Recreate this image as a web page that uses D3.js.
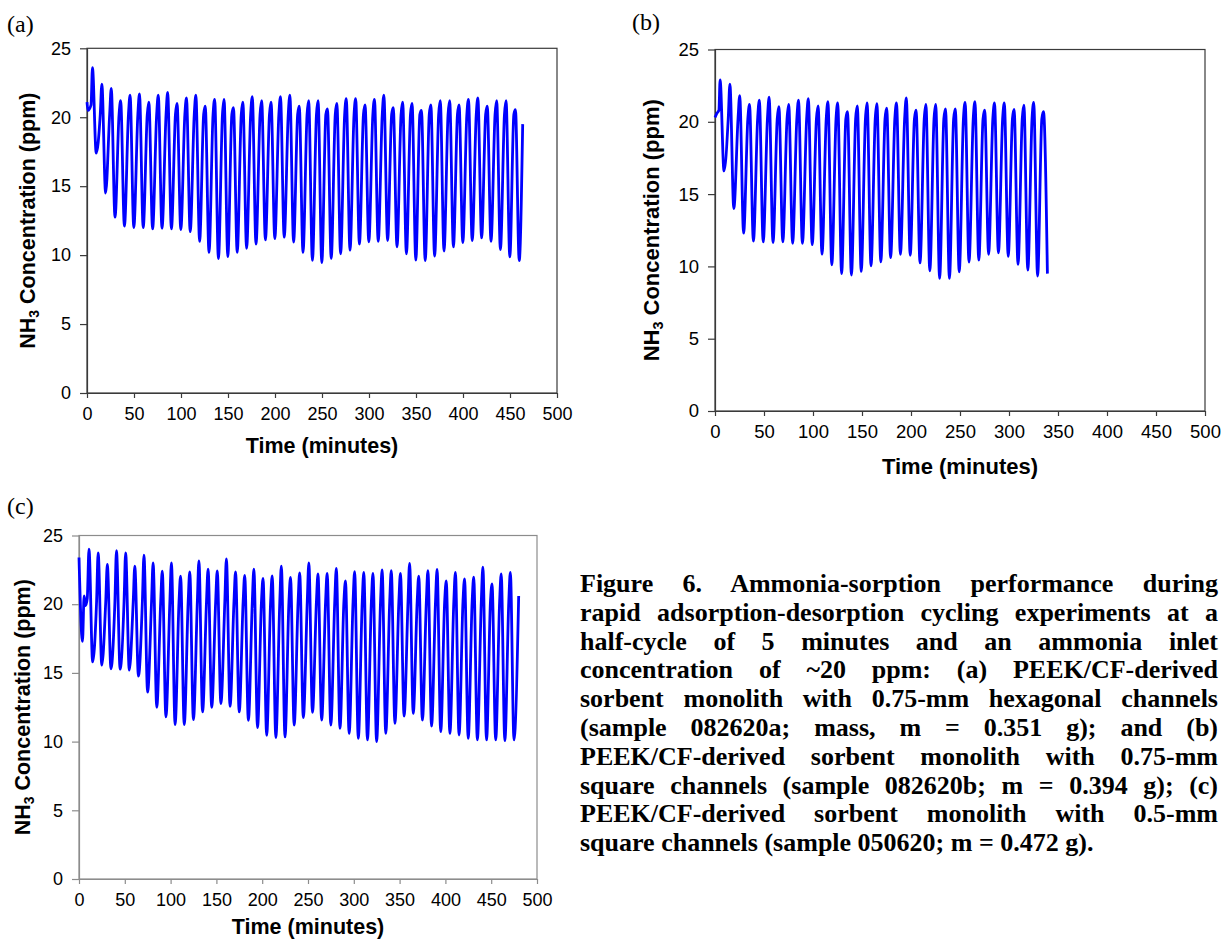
<!DOCTYPE html>
<html><head><meta charset="utf-8">
<script src="https://cdn.jsdelivr.net/npm/d3@7"></script>
<style>html,body{margin:0;padding:0;background:#fff;} svg{display:block;}</style>
</head><body>
<svg id="chart" width="1225" height="941"></svg>
<script>
// ---------------- data ----------------
const xTickValues = [0, 50, 100, 150, 200, 250, 300, 350, 400, 450, 500];
const yTickValues = [0, 5, 10, 15, 20, 25];
const cycleMinutes = 10;          // full adsorption-desorption cycle (2 x 5-min half-cycles)

// panel (a)
const aLead = [[0, 21.1], [1.0, 20.5], [4.3, 20.9]];
const aFirstPeak = 5.8;
const aPeaks = [23.6, 22.4, 22.1, 21.2, 21.6, 21.7, 21.1, 21.6, 21.8, 21.0,
  21.4, 21.6, 20.8, 21.3, 21.3, 20.7, 21.1, 21.5, 21.2, 21.1,
  21.5, 21.6, 20.8, 21.2, 21.2, 20.6, 21.0, 21.35, 21.35, 20.9,
  21.3, 21.6, 20.7, 21.1, 21.0, 20.5, 20.9, 21.2, 21.2, 20.9,
  21.3, 21.4, 20.8, 21.2, 21.2, 20.55];
const aTroughs = [17.4, 14.5, 12.75, 12.1, 12.0, 12.0, 11.9, 11.95, 11.9, 11.85,
  11.7, 11.0, 10.2, 9.75, 9.9, 10.2, 10.5, 10.8, 11.1, 11.2,
  11.3, 10.95, 10.2, 9.62, 9.45, 9.76, 10.1, 10.35, 10.8, 10.96,
  11.0, 11.06, 10.6, 10.1, 9.64, 9.6, 9.93, 10.3, 10.6, 10.9,
  11.06, 11.25, 11.0, 10.4, 9.87, 9.6];
const aShoulder = 20.2;
const aTail = [[463.5, 19.5]];

// panel (b)
const bLead = [[0, 20.3], [2.0, 20.6], [4.0, 20.8]];
const bFirstPeak = 5.2;
const bPeaks = [22.9, 22.6, 21.8, 21.2, 21.5, 21.7, 21.05, 21.2, 21.5, 21.6,
  21.1, 21.4, 21.3, 20.7, 21.1, 21.3, 21.25, 20.95, 21.3, 21.65,
  20.8, 21.2, 21.2, 20.9, 20.9, 21.35, 21.4, 20.8, 21.3, 21.3,
  20.85, 21.15, 21.35, 20.7];
const bTroughs = [16.6, 14.0, 12.3, 11.75, 11.7, 11.65, 11.7, 11.6, 11.6, 11.5,
  10.85, 10.1, 9.5, 9.4, 9.65, 10.04, 10.31, 10.61, 10.84, 10.77,
  10.24, 9.69, 9.17, 9.17, 9.62, 10.3, 10.43, 10.84, 10.93, 10.7,
  10.15, 9.74, 9.33, 9.5];
const bShoulder = 20.2;
const bTail = [];

// panel (c)
const cLead = [[0, 23.4], [3.8, 17.3], [5.6, 20.6], [7.2, 19.9], [9.0, 20.4]];
const cFirstPeak = 10.9;
const cPeaks = [24.0, 23.74, 22.9, 23.9, 23.74, 22.77, 23.57, 23.0, 22.4, 23.0,
  22.04, 22.35, 23.16, 22.55, 22.43, 23.3, 22.35, 22.1, 22.55, 21.87,
  22.06, 22.77, 21.95, 22.27, 23.0, 22.2, 22.25, 22.61, 21.69, 22.37,
  22.32, 22.25, 22.49, 22.44, 22.25, 22.97, 22.05, 22.44, 22.53, 21.69,
  22.32, 21.84, 21.96, 22.69, 21.47, 22.2, 22.32];
const cTroughs = [15.8, 15.56, 15.3, 15.27, 15.2, 14.76, 13.6, 12.5, 11.8, 11.24,
  11.24, 11.6, 12.16, 12.5, 12.77, 12.57, 12.16, 11.55, 11.02, 10.46,
  10.3, 10.34, 11.2, 11.75, 12.13, 11.57, 11.21, 10.97, 10.6, 10.24,
  10.12, 10.0, 10.6, 11.33, 11.86, 12.05, 11.57, 11.13, 10.72, 10.6,
  10.48, 10.24, 10.12, 10.12, 10.12, 10.07, 10.12];
const cShoulder = 20.2;
const cTail = [[480, 20.6]];

const xTitle = "Time (minutes)";
const yTitleMain = "NH", yTitleSub = "3", yTitleRest = " Concentration (ppm)";
const captionLines = [
  "Figure 6. Ammonia-sorption performance during",
  "rapid adsorption-desorption cycling experiments at a",
  "half-cycle of 5 minutes and an ammonia inlet",
  "concentration of ~20 ppm: (a) PEEK/CF-derived",
  "sorbent monolith with 0.75-mm hexagonal channels",
  "(sample 082620a; mass, m = 0.351 g); and (b)",
  "PEEK/CF-derived sorbent monolith with 0.75-mm",
  "square channels (sample 082620b; m = 0.394 g); (c)",
  "PEEK/CF-derived sorbent monolith with 0.5-mm",
  "square channels (sample 050620; m = 0.472 g)."
];

// ---------------- build series ----------------
function buildSeries(lead, firstPeak, peaks, troughs, shoulder, tail) {
  const pts = lead.map(d => ({t: d[0], v: d[1]}));
  peaks.forEach((p, i) => {
    const tp = firstPeak + i * cycleMinutes;
    if (i > 0) pts.push({t: tp - 1.7, v: shoulder});
    pts.push({t: tp, v: p});
    if (i < troughs.length) pts.push({t: tp + 4, v: troughs[i]});
  });
  tail.forEach(d => pts.push({t: d[0], v: d[1]}));
  return pts;
}

const panels = [
  {id: "a", label: "(a)", lx: 7, ly: 32, x0: 87, x1: 557, yT: 48.3, yB: 393,
   axis: "#3a3a3a", tick: 18, title: 21.5, yTitleX: 35, xTitleY: 453, pad: 9.5,
   data: buildSeries(aLead, aFirstPeak, aPeaks, aTroughs, aShoulder, aTail)},
  {id: "b", label: "(b)", lx: 632, ly: 30, x0: 715, x1: 1205, yT: 49.5, yB: 411,
   axis: "#3a3a3a", tick: 18.5, title: 22, yTitleX: 659, xTitleY: 474, pad: 9,
   data: buildSeries(bLead, bFirstPeak, bPeaks, bTroughs, bShoulder, bTail)},
  {id: "c", label: "(c)", lx: 7, ly: 514, x0: 79, x1: 537, yT: 535.5, yB: 879,
   axis: "#8c8c8c", tick: 18, title: 21.5, yTitleX: 30, xTitleY: 934, pad: 9,
   data: buildSeries(cLead, cFirstPeak, cPeaks, cTroughs, cShoulder, cTail)}
];

const svg = d3.select("#chart");
const sans = "'Liberation Sans', Arial, sans-serif";
const serif = "'Liberation Serif', 'Times New Roman', serif";

panels.forEach(P => {
  const x = d3.scaleLinear().domain([0, 500]).range([P.x0, P.x1]);
  const y = d3.scaleLinear().domain([0, 25]).range([P.yB, P.yT]);
  const g = svg.append("g");

  // plot-area frame (top/right)
  g.append("rect").attr("x", P.x0).attr("y", P.yT)
    .attr("width", P.x1 - P.x0).attr("height", P.yB - P.yT)
    .attr("fill", "none").attr("stroke", P.axis).attr("stroke-width", 1.2);

  // axes
  const ax = g.append("g").attr("transform", `translate(0,${P.yB})`)
    .call(d3.axisBottom(x).tickValues(xTickValues).tickSize(5).tickSizeOuter(0).tickPadding(P.pad));
  const ay = g.append("g").attr("transform", `translate(${P.x0},0)`)
    .call(d3.axisLeft(y).tickValues(yTickValues).tickSize(7).tickSizeOuter(0).tickPadding(9));
  [ax, ay].forEach(a => {
    a.select(".domain").attr("stroke", P.axis).attr("stroke-width", 1.2);
    a.selectAll(".tick line").attr("stroke", P.axis).attr("stroke-width", 1.2);
    a.selectAll(".tick text").attr("fill", "#000").style("font-family", sans).style("font-size", P.tick + "px");
  });

  // data line
  const line = d3.line().x(d => x(d.t)).y(d => y(d.v)).curve(d3.curveMonotoneX);
  g.append("path").datum(P.data).attr("d", line)
    .attr("fill", "none").attr("stroke", "#0000ff").attr("stroke-width", 2.8)
    .attr("stroke-linejoin", "round");

  // axis titles
  g.append("text").attr("x", (P.x0 + P.x1) / 2).attr("y", P.xTitleY)
    .attr("text-anchor", "middle").style("font-family", sans).style("font-weight", "bold")
    .style("font-size", P.title + "px").text(xTitle);
  const yt = g.append("text")
    .attr("transform", `translate(${P.yTitleX},${(P.yT + P.yB) / 2}) rotate(-90)`)
    .attr("text-anchor", "middle").style("font-family", sans).style("font-weight", "bold")
    .style("font-size", P.title + "px");
  yt.append("tspan").text(yTitleMain);
  yt.append("tspan").attr("dy", "0.3em").style("font-size", (P.title * 0.65) + "px").text(yTitleSub);
  yt.append("tspan").attr("dy", "-0.195em").text(yTitleRest);

  // panel label
  svg.append("text").attr("x", P.lx).attr("y", P.ly)
    .style("font-family", serif).style("font-size", "24px").text(P.label);
});

// caption (justified lines)
const capX = 580, capW = 638, capY0 = 592, capLH = 28.8;
const cap = svg.append("g").style("font-family", serif).style("font-weight", "bold").style("font-size", "26px");
captionLines.forEach((s, i) => {
  const t = cap.append("text").attr("x", capX).attr("y", capY0 + i * capLH).text(s);
  if (i < captionLines.length - 1) {
    const nat = t.node().getComputedTextLength();
    const spaces = (s.match(/ /g) || []).length;
    if (spaces > 0) t.attr("word-spacing", ((capW - nat) / spaces) + "px");
  }
});
</script>
</body></html>
